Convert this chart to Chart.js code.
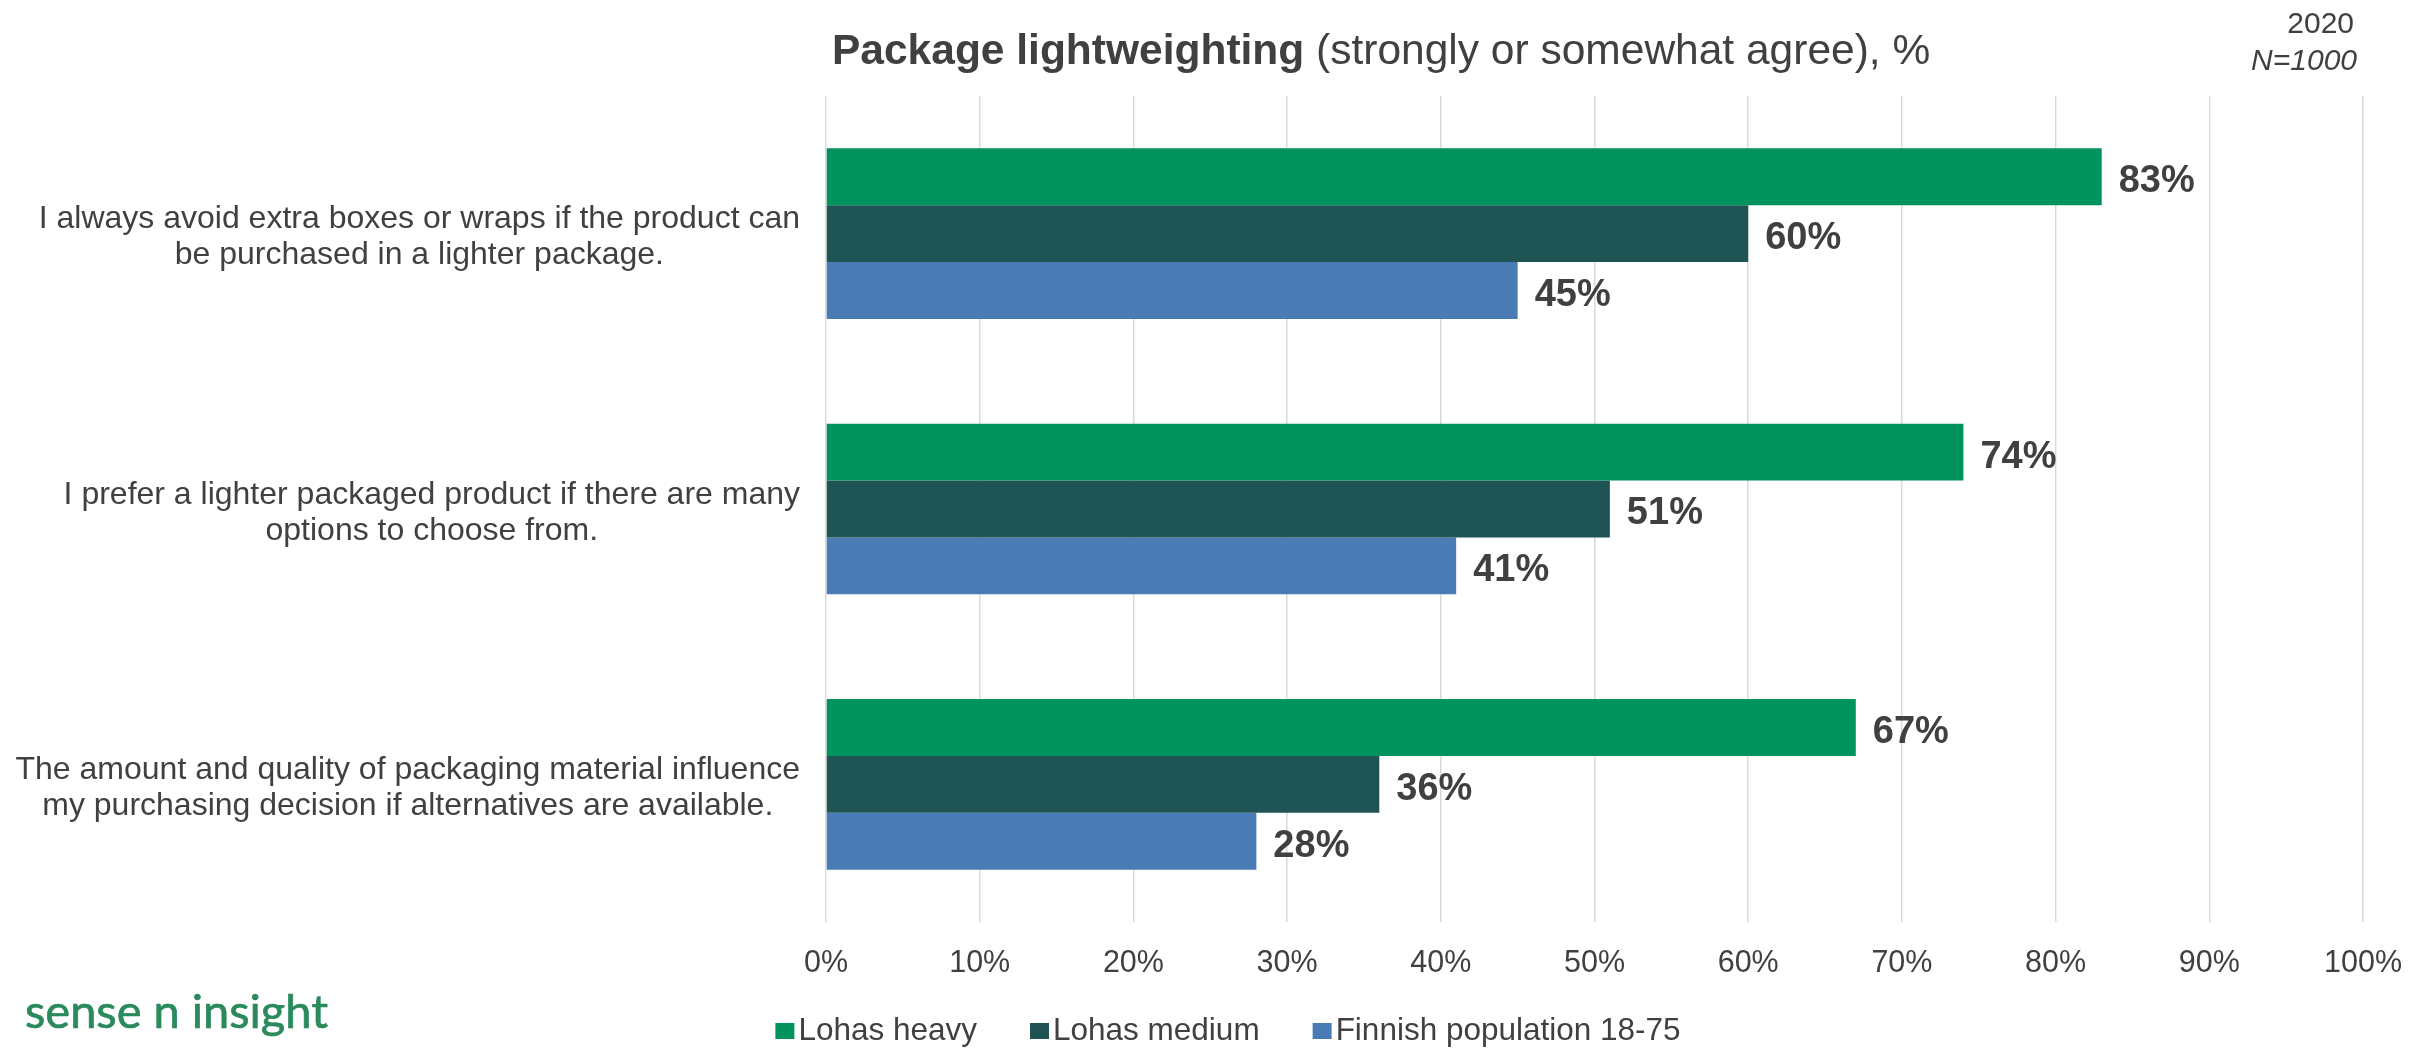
<!DOCTYPE html>
<html>
<head>
<meta charset="utf-8">
<script src="https://cdn.jsdelivr.net/npm/chart.js@4.4.1/dist/chart.umd.min.js"></script>
<style>
  html, body { margin: 0; padding: 0; background: #ffffff; }
  #wrap { width: 2435px; height: 1048px; position: relative; }
</style>
</head>
<body>
<div id="wrap"><canvas id="chart" width="2435" height="1048"></canvas></div>
<script>
// Survey statements (each split into its display lines)
const statements = [
  ['I always avoid extra boxes or wraps if the product can', 'be purchased in a lighter package.'],
  ['I prefer a lighter packaged product if there are many', 'options to choose from.'],
  ['The amount and quality of packaging material influence', 'my purchasing decision if alternatives are available.']
];

// Share of respondents who strongly or somewhat agree, %
const lohasHeavy  = [83, 74, 67];
const lohasMedium = [60, 51, 36];
const finnishPop  = [45, 41, 28];

const seriesNames = ['Lohas heavy', 'Lohas medium', 'Finnish population 18-75'];
const seriesColors = ['#00935d', '#1f5455', '#497cb4'];

const axisMin = 0;
const axisMax = 100;
const axisStep = 10;

const titleBold = 'Package lightweighting';
const titleRest = ' (strongly or somewhat agree), %';
const yearText = '2020';
const sampleText = 'N=1000';
const brandText = 'sense n insight';

const TEXT = '#404040';
const FONT = "'Liberation Sans', Arial, sans-serif";

// Wrapped statement labels, each block right-aligned to the axis with centred lines
const statementLabels = {
  id: 'statementLabels',
  afterDraw(chart) {
    const ctx = chart.ctx;
    const y = chart.scales.y;
    const right = chart.chartArea.left - 26;
    ctx.save();
    ctx.font = '32px ' + FONT;
    ctx.fillStyle = TEXT;
    ctx.textAlign = 'center';
    ctx.textBaseline = 'middle';
    const lineH = 36;
    statements.forEach((lines, i) => {
      const cy = y.getPixelForTick(i) + 4;
      const maxW = Math.max(...lines.map(l => ctx.measureText(l).width));
      const cx = right - maxW / 2;
      const top = cy - (lines.length - 1) * lineH / 2;
      lines.forEach((l, k) => ctx.fillText(l, cx, top + k * lineH));
    });
    ctx.restore();
  }
};

// Percentage values at the end of every bar
const valueLabels = {
  id: 'valueLabels',
  afterDatasetsDraw(chart) {
    const ctx = chart.ctx;
    ctx.save();
    ctx.font = 'bold 38px ' + FONT;
    ctx.fillStyle = TEXT;
    ctx.textAlign = 'left';
    ctx.textBaseline = 'middle';
    chart.data.datasets.forEach((ds, di) => {
      const meta = chart.getDatasetMeta(di);
      meta.data.forEach((bar, i) => {
        ctx.fillText(ds.data[i] + '%', bar.x + 17, bar.y + 5);
      });
    });
    ctx.restore();
  }
};

// Series key below the axis
const seriesKey = {
  id: 'seriesKey',
  afterDraw(chart) {
    const ctx = chart.ctx;
    ctx.save();
    ctx.font = '31.5px ' + FONT;
    ctx.textBaseline = 'middle';
    ctx.textAlign = 'left';
    const box = 19, gap = 4, spacing = 53, cy = 1031;
    const widths = seriesNames.map(n => box + gap + ctx.measureText(n).width);
    const total = widths.reduce((a, b) => a + b, 0) + spacing * (seriesNames.length - 1);
    let x = 1228 - total / 2;
    seriesNames.forEach((name, i) => {
      ctx.fillStyle = seriesColors[i];
      ctx.fillRect(x, cy - 8, box, 16);
      ctx.fillStyle = TEXT;
      ctx.fillText(name, x + box + gap, cy);
      x += widths[i] + spacing;
    });
    ctx.restore();
  }
};

// Heading, survey year / sample size and the brand mark
const headerFooter = {
  id: 'headerFooter',
  afterDraw(chart) {
    const ctx = chart.ctx;
    ctx.save();
    ctx.fillStyle = TEXT;
    ctx.textBaseline = 'alphabetic';
    ctx.textAlign = 'left';
    ctx.font = 'bold 42.5px ' + FONT;
    const x0 = 832;
    ctx.fillText(titleBold, x0, 64);
    const w = ctx.measureText(titleBold).width;
    ctx.font = '42.5px ' + FONT;
    ctx.fillText(titleRest, x0 + w, 64);

    ctx.textAlign = 'right';
    ctx.font = '30px ' + FONT;
    ctx.fillText(yearText, 2354, 33);
    ctx.font = 'italic 30px ' + FONT;
    ctx.fillText(sampleText, 2357, 70);

    // brand mark, sized to its box
    ctx.textAlign = 'left';
    ctx.fillStyle = '#2a8a5c';
    ctx.strokeStyle = '#2a8a5c';
    ctx.lineWidth = 0.7;
    let size = 44;
    ctx.font = size + "px Lato, 'Open Sans', sans-serif";
    const bw = ctx.measureText(brandText).width;
    size = size * 303 / bw;
    ctx.font = size + "px Lato, 'Open Sans', sans-serif";
    ctx.fillText(brandText, 25, 1028);
    ctx.strokeText(brandText, 25, 1028);
    ctx.restore();
  }
};

const ctx = document.getElementById('chart').getContext('2d');
new Chart(ctx, {
  type: 'bar',
  data: {
    labels: statements.map(s => s.join(' ')),
    datasets: [
      { label: seriesNames[0], data: lohasHeavy,  backgroundColor: seriesColors[0] },
      { label: seriesNames[1], data: lohasMedium, backgroundColor: seriesColors[1] },
      { label: seriesNames[2], data: finnishPop,  backgroundColor: seriesColors[2] }
    ]
  },
  options: {
    indexAxis: 'y',
    responsive: false,
    animation: false,
    maintainAspectRatio: false,
    layout: { padding: { left: 0, right: 72, top: 96, bottom: 46 } },
    datasets: { bar: { barPercentage: 1.0, categoryPercentage: 0.62, borderWidth: 0 } },
    scales: {
      x: {
        min: axisMin,
        max: axisMax,
        afterFit(scale) { scale.height = 80; },
        grid: { color: '#d9d9d9', lineWidth: 1.5, drawTicks: false },
        border: { display: false },
        ticks: {
          stepSize: axisStep,
          padding: 23,
          color: TEXT,
          font: { family: FONT, size: 30.5 },
          callback: v => v + '%'
        }
      },
      y: {
        afterFit(scale) { scale.width = 826; },
        grid: { display: false, drawTicks: false },
        border: { display: false },
        ticks: { display: false }
      }
    },
    plugins: {
      title: { display: false },
      tooltip: { enabled: false },
      legend: { display: false }
    }
  },
  plugins: [statementLabels, valueLabels, seriesKey, headerFooter]
});
</script>
</body>
</html>
